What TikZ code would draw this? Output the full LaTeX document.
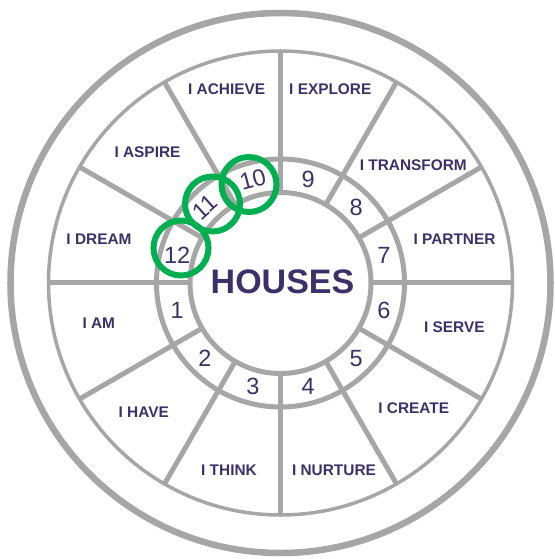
\documentclass[tikz,border=0pt]{standalone}
\usepackage{fontspec}
\setmainfont{Liberation Sans}

\definecolor{wheelgray}{HTML}{A6A6A6}
\definecolor{houseink}{HTML}{3B3168}
\definecolor{markgreen}{HTML}{00B050}

\tikzset{
  rim/.style={draw=wheelgray, line width=6.5pt},
  band/.style={draw=wheelgray, line width=3.5pt},
  track/.style={draw=wheelgray, line width=5pt},
  housename/.style={text=houseink, font=\fontsize{15.4}{18}\selectfont\bfseries, inner sep=0pt},
  housenum/.style={text=houseink, font=\fontsize{23.5}{28}\selectfont, inner sep=0pt},
  hub/.style={text=houseink, font=\fontsize{34}{40}\selectfont\bfseries, inner sep=0pt},
  hilite/.style={circle, draw=markgreen, line width=6pt, minimum size=55pt, inner sep=0pt}
}

\begin{document}
\begin{tikzpicture}[x=1pt,y=1pt]
  \useasboundingbox (-280.5,-276) rectangle (273.5,283);

  % Define circles
  \draw[rim] (0,0) circle (270);
  \draw[band] (0,0) circle (232);
  \draw[track] (0,0) circle (124);
  \draw[track] (0,0) circle (90.5);

  % Spokes between the houses
  \foreach \a in {0,30,...,330}
    \draw[track] (\a:90.5) -- (\a:232);

  % Define nodes
  \node[hub] (hub) at (2,1.5) {HOUSES};%

  \foreach \k/\x/\y/\txt in {1/-181.7/-40.7/I AM, 2/-136.7/-129.3/I HAVE,
      3/-51.5/-187.7/I THINK, 4/53.5/-187/I NURTURE, 5/133.3/-125/I CREATE,
      6/173.8/-43.7/I SERVE, 7/174/44/I PARTNER, 8/132.8/118/I TRANSFORM,
      9/49.8/194/I EXPLORE, 10/-53.8/193.5/I ACHIEVE, 11/-133/130.5/I ASPIRE,
      12/-181.5/44/I DREAM}
    \node[housename] (h\k) at (\x,\y) {\txt};%

  % Highlighted houses
  \node[hilite] (g10) at (-31.5,98.5) {};%
  \node[hilite] (g11) at (-68,79) {};%
  \node[hilite] (g12) at (-99.5,35) {};%

  % House numbers (10 and 11 follow the ring)
  \foreach \k/\r in {1/0,2/0,3/0,4/0,5/0,6/0,7/0,8/0,9/0,10/15,11/42,12/0}
    \node[housenum, rotate=\r] (n\k) at ({195+30*(\k-1)}:107) {\k};%
\end{tikzpicture}
\end{document}
